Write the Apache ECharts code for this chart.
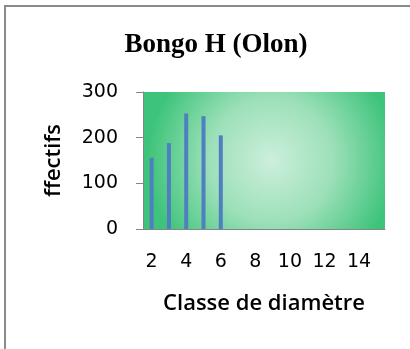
<!DOCTYPE html>
<html>
<head>
<meta charset="utf-8">
<script src="https://cdn.jsdelivr.net/npm/echarts@6/dist/echarts.min.js"></script>
<style>
html,body{margin:0;padding:0;background:#fff;}
#chart{width:410px;height:349px;}
</style>
</head>
<body>
<div id="chart"></div>
<script>
const titleText = "Bongo H (Olon)";
const xAxisTitle = "Classe de diamètre";
const yAxisTitle = "ffectifs";
const categories = ["2","3","4","5","6","7","8","9","10","11","12","13","14","15"];
const effectifs = [156, 188, 253, 247, 205, null, null, null, null, null, null, null, null, null];
const yTicks = [0, 100, 200, 300];

const chart = echarts.init(document.getElementById('chart'), null, {renderer: 'canvas'});
chart.setOption({
  animation: false,
  title: {
    text: titleText,
    left: 211, top: 27, textAlign: 'center',
    textStyle: {fontFamily: 'Liberation Serif', fontWeight: 'bold', fontSize: 27, color: '#000'}
  },
  graphic: [{
    type: 'rect', shape: {x: 5, y: 6, width: 600, height: 600},
    style: {fill: 'none', stroke: '#8a8a8a', lineWidth: 2}, silent: true
  }],
  grid: {
    left: 143, right: 25, top: 92, bottom: 120, show: true, borderWidth: 0,
    backgroundColor: {
      type: 'radial', x: 0.53, y: 0.5, r: 0.9,
      colorStops: [{offset: 0, color: '#ccefdb'}, {offset: 0.5, color: '#9de0b9'}, {offset: 1, color: '#3ec47a'}]
    }
  },
  xAxis: {
    type: 'category', data: categories,
    name: xAxisTitle, nameLocation: 'middle', nameGap: 64,
    nameTextStyle: {fontFamily: 'Open Sans', fontWeight: 600, fontSize: 22, color: '#000'},
    axisLine: {lineStyle: {color: '#868686', width: 1}},
    axisTick: {show: false},
    axisLabel: {interval: 1, margin: 24, fontFamily: 'DejaVu Sans', fontSize: 19, color: '#000'}
  },
  yAxis: {
    type: 'value', min: yTicks[0], max: yTicks[yTicks.length - 1], interval: 100,
    name: yAxisTitle, nameLocation: 'middle', nameGap: 78,
    nameTextStyle: {fontFamily: 'Open Sans', fontWeight: 600, fontSize: 22, color: '#000'},
    axisLine: {show: true, lineStyle: {color: '#868686', width: 1}},
    axisTick: {show: true, length: 7, lineStyle: {color: '#868686'}},
    splitLine: {show: false},
    axisLabel: {margin: 25, fontFamily: 'DejaVu Sans', fontSize: 19, color: '#000'}
  },
  series: [{
    type: 'bar', data: effectifs, barWidth: 4,
    itemStyle: {color: '#4f7fc0'}
  }]
});
</script>
</body>
</html>
